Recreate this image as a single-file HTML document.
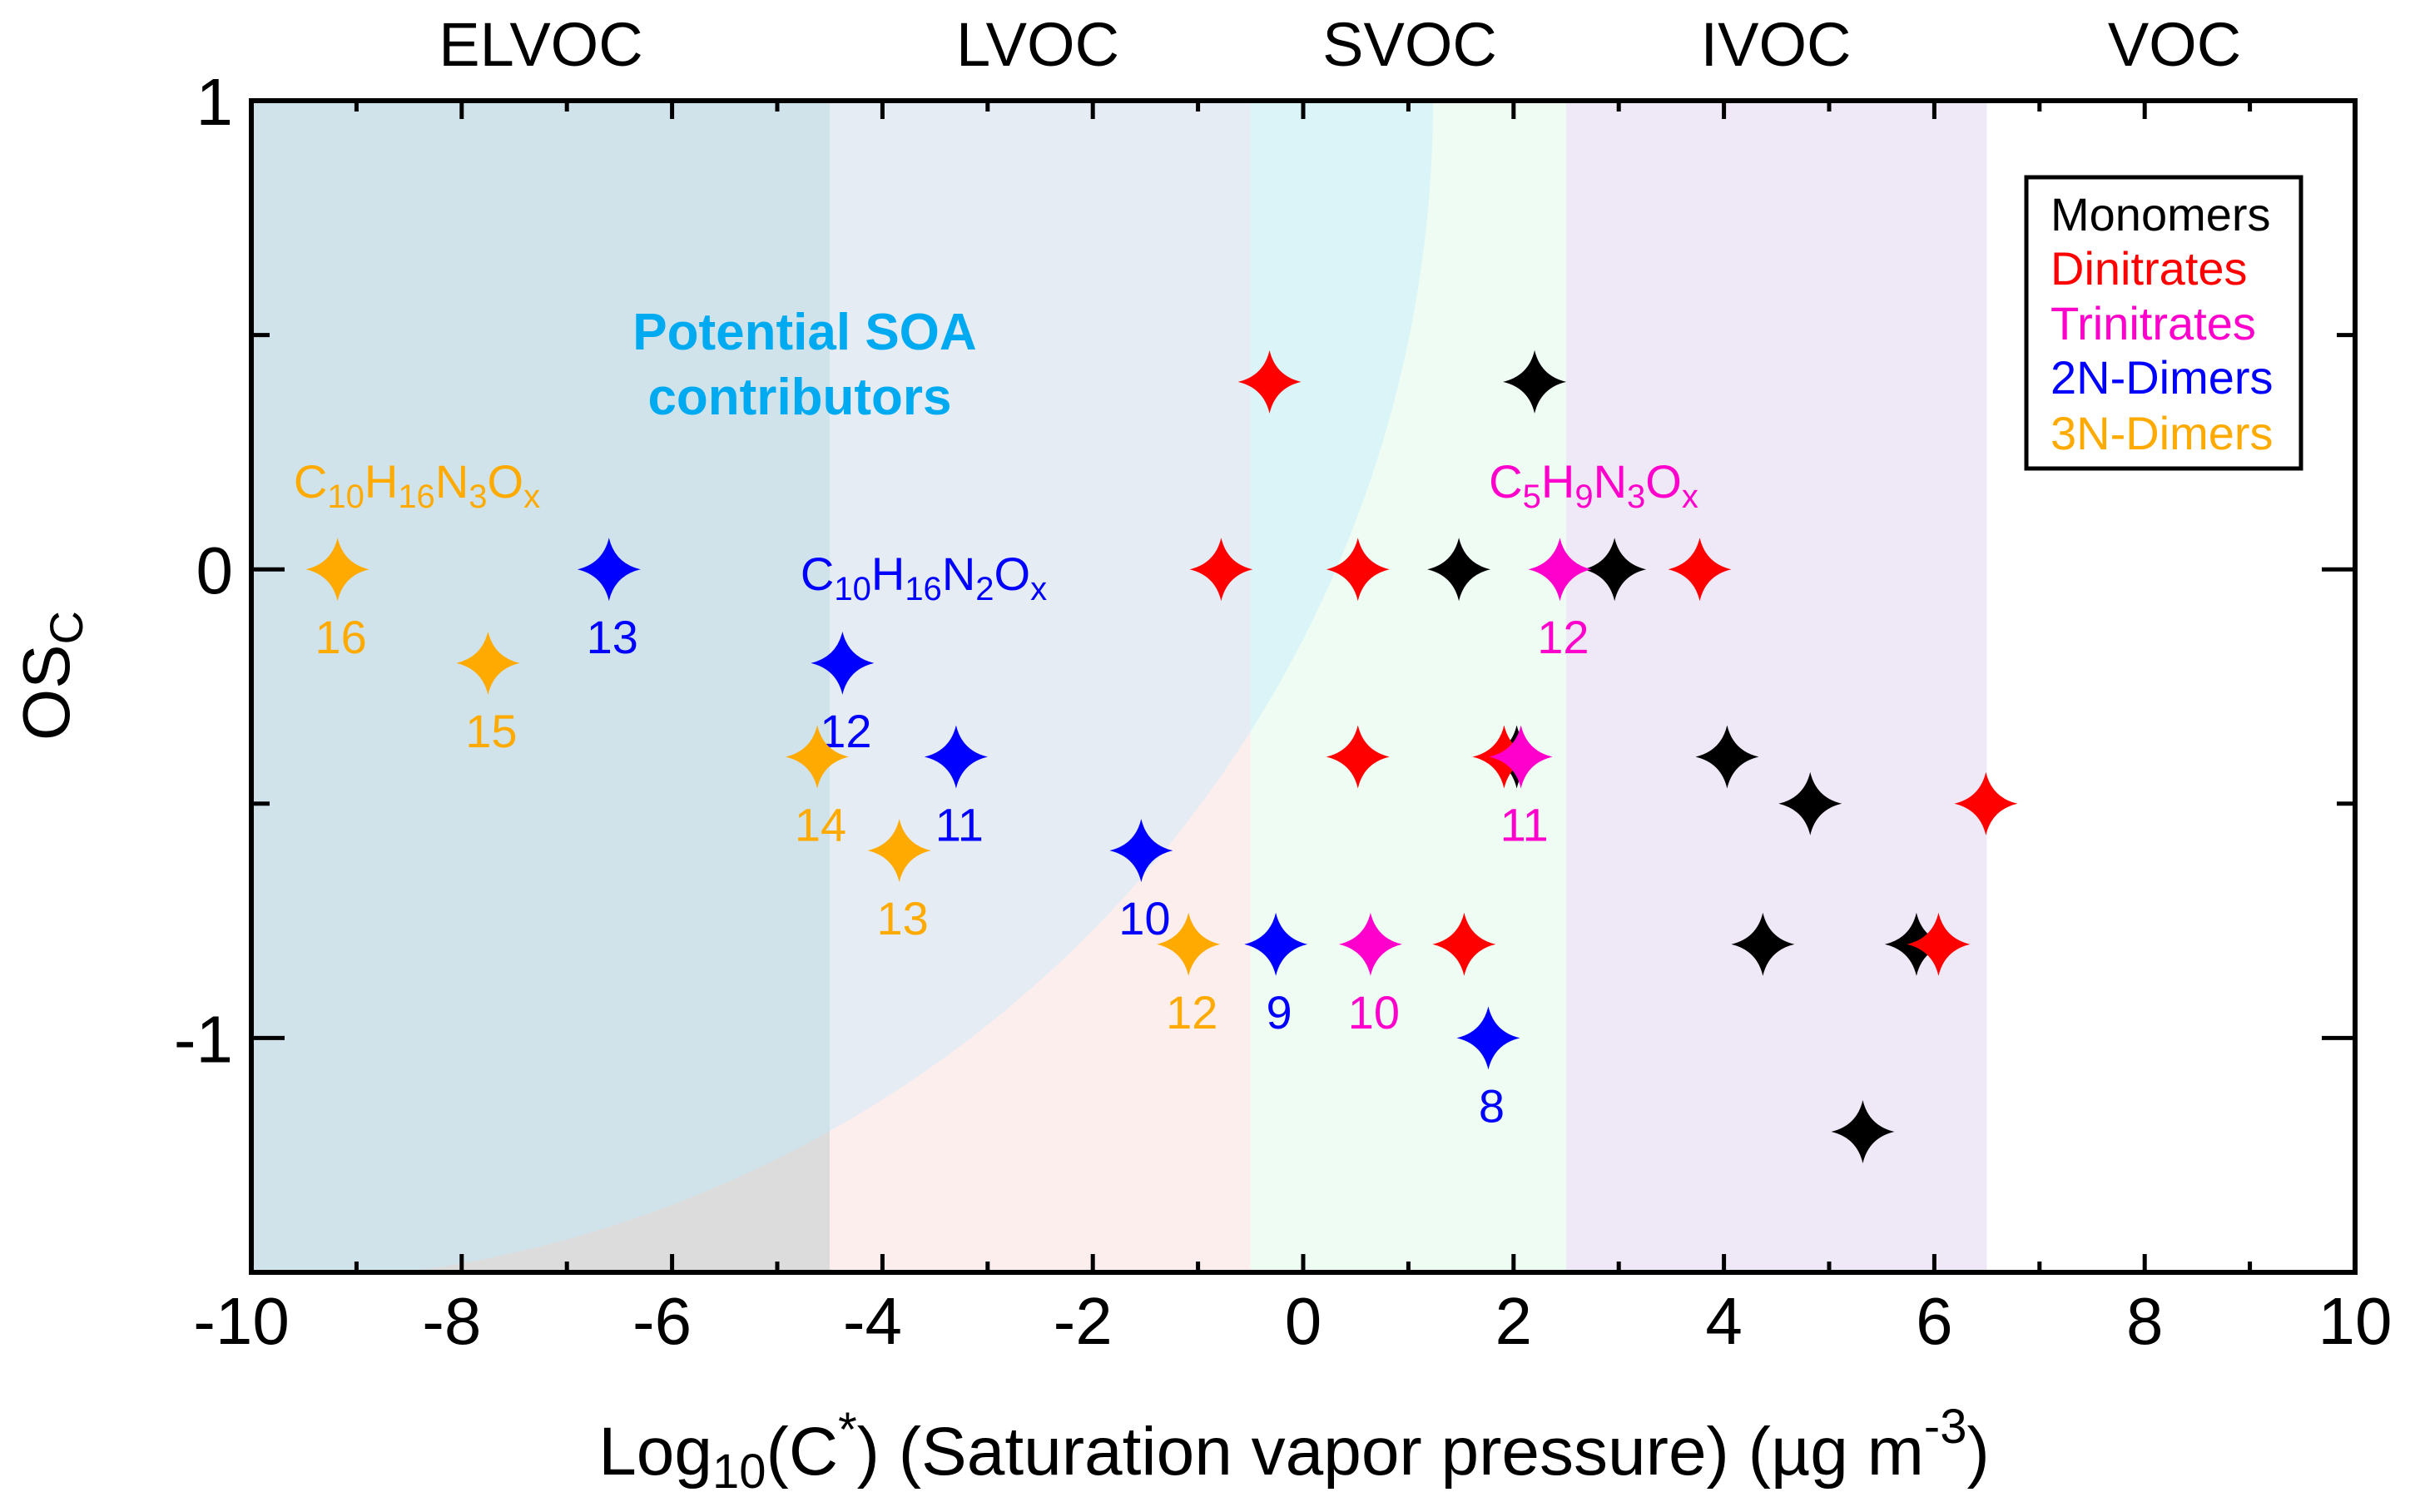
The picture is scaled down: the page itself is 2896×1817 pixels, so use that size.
<!DOCTYPE html>
<html><head><meta charset="utf-8"><style>
html,body{margin:0;padding:0;background:#fff;}
svg{display:block;font-family:"Liberation Sans",Arial,sans-serif;}
</style></head><body>
<svg id="chart" width="2896" height="1817" viewBox="0 0 2896 1817" xmlns="http://www.w3.org/2000/svg">
<defs>
<clipPath id="plotclip"><rect x="302" y="121" width="2528" height="1408"/></clipPath>
<clipPath id="circclip"><circle cx="302" cy="121" r="1420"/></clipPath>
</defs>
<g id="bg" clip-path="url(#plotclip)"></g>
<g id="axes"></g>
<g id="marks"></g>
<g font-size="74" text-anchor="middle">
<text x="650" y="79">ELVOC</text>
<text x="1247" y="79">LVOC</text>
<text x="1694" y="79">SVOC</text>
<text x="2134" y="79">IVOC</text>
<text x="2613" y="79">VOC</text>
</g>
<g font-size="62" font-weight="bold" fill="#00aaf0" text-anchor="middle">
<text x="967" y="420">Potential SOA</text>
<text x="961" y="498">contributors</text>
</g>
<text x="501" y="598" text-anchor="middle" font-size="56" fill="#ffaa00">C<tspan font-size="40" dy="12">10</tspan><tspan dy="-12">H</tspan><tspan font-size="40" dy="12">16</tspan><tspan dy="-12">N</tspan><tspan font-size="40" dy="12">3</tspan><tspan dy="-12">O</tspan><tspan font-size="40" dy="12">x</tspan></text>
<text x="1110" y="709" text-anchor="middle" font-size="56" fill="#0000ff">C<tspan font-size="40" dy="12">10</tspan><tspan dy="-12">H</tspan><tspan font-size="40" dy="12">16</tspan><tspan dy="-12">N</tspan><tspan font-size="40" dy="12">2</tspan><tspan dy="-12">O</tspan><tspan font-size="40" dy="12">x</tspan></text>
<text x="1915" y="598" text-anchor="middle" font-size="56" fill="#ff00cc">C<tspan font-size="40" dy="12">5</tspan><tspan dy="-12">H</tspan><tspan font-size="40" dy="12">9</tspan><tspan dy="-12">N</tspan><tspan font-size="40" dy="12">3</tspan><tspan dy="-12">O</tspan><tspan font-size="40" dy="12">x</tspan></text>
<g font-size="56">
<rect x="2435" y="213" width="330" height="350" fill="#fff" stroke="#000" stroke-width="5"/>
<text x="2464" y="277" fill="#000">Monomers</text>
<text x="2464" y="342" fill="#ff0000">Dinitrates</text>
<text x="2464" y="408" fill="#ff00cc">Trinitrates</text>
<text x="2464" y="473" fill="#0000ff">2N-Dimers</text>
<text x="2464" y="540" fill="#ffaa00">3N-Dimers</text>
</g>
<text x="1555" y="1772" text-anchor="middle" font-size="82">Log<tspan font-size="58" dy="16">10</tspan><tspan dy="-16">(C</tspan><tspan font-size="58" dy="-34">*</tspan><tspan dy="34">) (Saturation vapor pressure) (µg m</tspan><tspan font-size="58" dy="-38">-3</tspan><tspan dy="38">)</tspan></text>
<text transform="translate(83,812) rotate(-90)" text-anchor="middle" font-size="80">OS<tspan font-size="56" dy="16">C</tspan></text>
</svg>
<script>
const xTicks=[-10,-8,-6,-4,-2,0,2,4,6,8,10];
const yTicks=[1,0,-1];
const yMinor=[0.5,-0.5];
const bandEdges=[-10,-4.5,-0.5,2.5,6.5,10];
const monoX=[2.2,1.48,2.96,2.03,4.03,4.82,4.37,5.83,5.32];
const monoY=[0.4,0,0,-0.4,-0.4,-0.5,-0.8,-0.8,-1.2];
const diX=[-0.32,-0.78,0.52,3.77,0.52,1.91,6.49,1.53,6.04];
const diY=[0.4,0,0,0,-0.4,-0.4,-0.5,-0.8,-0.8];
const triX=[2.44,2.07,0.64];
const triY=[0,-0.4,-0.8];
const triLab=["12","11","10"];
const d2X=[-6.6,-4.38,-3.3,-1.54,-0.26,1.76];
const d2Y=[0,-0.2,-0.4,-0.6,-0.8,-1.0];
const d2Lab=["13","12","11","10","9","8"];
const d3X=[-9.18,-7.75,-4.62,-3.84,-1.09];
const d3Y=[0,-0.2,-0.4,-0.6,-0.8];
const d3Lab=["16","15","14","13","12"];

const L=302,R=2830,T=121,B=1529;
const sx=v=>L+(v+10)/20*(R-L);
const sy=v=>T+(1-v)/2.5*(B-T);
const NS='http://www.w3.org/2000/svg';
function mk(tag,attrs,parent){const e=document.createElementNS(NS,tag);for(const k in attrs)e.setAttribute(k,attrs[k]);parent.appendChild(e);return e;}
const bg=document.getElementById('bg'),ax=document.getElementById('axes'),mg=document.getElementById('marks');
const outside=['#dcdcdc','#fdeeee','#eefcf4','#efe9f7','#ffffff'];
const inside=['#d0e3ea','#e5ecf4','#daf4f7','#efe9f7','#ffffff'];
for(let i=0;i<5;i++){
  const r=mk('rect',{x:sx(bandEdges[i]),y:T,width:sx(bandEdges[i+1])-sx(bandEdges[i]),height:B-T,fill:outside[i]},bg);
  
  
}
const cg=mk('g',{'clip-path':'url(#circclip)'},bg);
for(let i=0;i<3;i++){
  const r=mk('rect',{x:sx(bandEdges[i]),y:T,width:sx(bandEdges[i+1])-sx(bandEdges[i]),height:B-T,fill:inside[i]},cg);
  
  
}
const fr=mk('rect',{x:L,y:T,width:R-L,height:B-T,fill:'none',stroke:'#000','stroke-width':6},ax);


for(let v=-10;v<=10;v+=1){
  const major=xTicks.includes(v);const len=major?22:13;
  mk('line',{x1:sx(v),x2:sx(v),y1:B,y2:B-len,stroke:'#000','stroke-width':5},ax);
  mk('line',{x1:sx(v),x2:sx(v),y1:T,y2:T+len,stroke:'#000','stroke-width':5},ax);
}
xTicks.forEach(v=>{const t=mk('text',{x:sx(v)-(v<0?12:0),y:1615,'text-anchor':'middle','font-size':80},ax);t.textContent=String(v);

});
yTicks.concat(yMinor).forEach(v=>{const len=yTicks.includes(v)?40:22;
  mk('line',{x1:L,x2:L+len,y1:sy(v),y2:sy(v),stroke:'#000','stroke-width':5},ax);
  mk('line',{x1:R,x2:R-len,y1:sy(v),y2:sy(v),stroke:'#000','stroke-width':5},ax);});
yTicks.forEach(v=>{const t=mk('text',{x:280,y:sy(v)+29,'text-anchor':'end','font-size':80},ax);t.textContent=String(v);

});
function star(x,y,c){const r=38,q=12;
  const d=`M${x},${y-r} Q${x+q*0.6},${y-q*0.6} ${x+r},${y} Q${x+q*0.6},${y+q*0.6} ${x},${y+r} Q${x-q*0.6},${y+q*0.6} ${x-r},${y} Q${x-q*0.6},${y-q*0.6} ${x},${y-r} Z`;
  const p=mk('path',{d:d,fill:c},mg);
  
  }
function series(X,Y,c,lab){X.forEach((v,i)=>{star(sx(v),sy(Y[i]),c);
  if(lab){const t=mk('text',{x:sx(v)+4,y:sy(Y[i])+101,'text-anchor':'middle','font-size':56,fill:c},mg);t.textContent=lab[i];
  
  }});}
series(monoX,monoY,'#000000');
series(diX,diY,'#ff0000');
series(triX,triY,'#ff00cc',triLab);
series(d2X,d2Y,'#0000ff',d2Lab);
series(d3X,d3Y,'#ffaa00',d3Lab);
</script>
</body></html>
